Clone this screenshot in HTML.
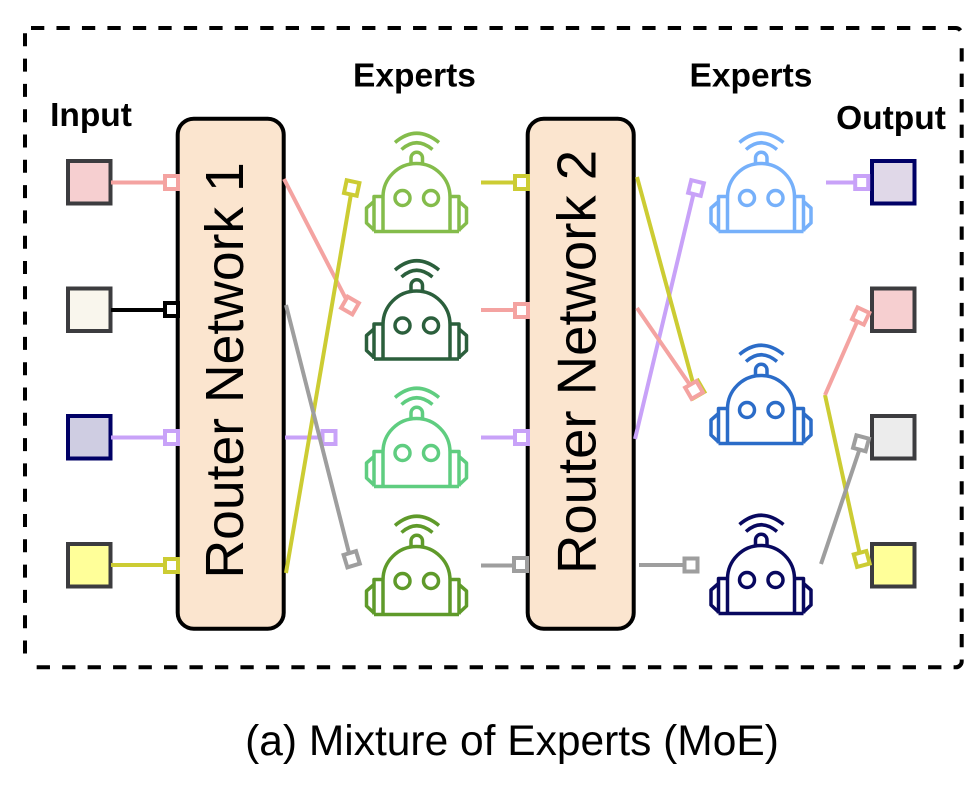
<!DOCTYPE html>
<html><head><meta charset="utf-8"><style>html,body{margin:0;padding:0;background:#fff}svg{display:block}text{font-family:"Liberation Sans",sans-serif}</style></head><body>
<svg width="978" height="790" viewBox="0 0 978 790" xmlns="http://www.w3.org/2000/svg">
<defs>
<g id="robot" fill="none" stroke-width="3.5" stroke-linejoin="round">
<path d="M383 231V197A33.500 33.500 0 0 1 450 197V231"/>
<path d="M374 231.500H459M374 231.500V196.500H383M459 231.500V196.500H450"/>
<path d="M374 201.500L366.500 208V223L374 230M459 201.500L466.500 208V223L459 230"/>
<circle cx="402.500" cy="198" r="7.500"/><circle cx="431" cy="198" r="7.500"/>
<path d="M411 164V158A5.700 5.700 0 0 1 422.500 158V164"/>
<path d="M395 142.500Q416.500 124 439 142.500"/>
<path d="M401.500 149.500Q416.500 136 432.500 149.500"/>
</g>
</defs>
<g fill="none" stroke="#000" stroke-width="4">
<path d="M31 28H956A6 6 0 0 1 961.700 34" stroke-dasharray="13.300 12.170"/>
<path d="M961.700 48.200V661A6 6 0 0 1 955.700 667.300H31" stroke-dasharray="13.300 12.170"/>
<path d="M25 33.300V661" stroke-dasharray="13 12.300"/>
</g>

<rect x="177.700" y="118.700" width="106" height="510" rx="16" fill="#fbe5cf" stroke="#000" stroke-width="4"/>
<rect x="527.700" y="118.700" width="106" height="510" rx="16" fill="#fbe5cf" stroke="#000" stroke-width="4"/>
<text transform="translate(243,578.500) rotate(-90)" font-size="53.500">Router Network 1</text>
<text transform="translate(595.300,574) rotate(-90)" font-size="54.500">Router Network 2</text>

<g font-weight="bold" font-size="33.500" text-anchor="middle" fill="#000">
<text x="91" y="126">Input</text>
<text x="414.500" y="86.700">Experts</text>
<text x="751" y="86.700">Experts</text>
<text x="891" y="129">Output</text>
</g>
<text x="512" y="755" text-anchor="middle" font-size="42.500">(a) Mixture of Experts (MoE)</text>

<g stroke="#3c3c3f" stroke-width="4">
<rect x="68" y="161" width="42.500" height="42.500" fill="#f6cfd0"/>
<rect x="68" y="288.500" width="42.500" height="42.500" fill="#f9f6ed"/>
<rect x="68" y="416" width="42.500" height="42.500" fill="#cfcde2" stroke="#000066"/>
<rect x="68" y="544" width="42.500" height="42.500" fill="#ffff99"/>
<rect x="872" y="161" width="42.500" height="42.500" fill="#e0d8e8" stroke="#000066"/>
<rect x="872" y="288.500" width="42.500" height="42.500" fill="#f6cfd0"/>
<rect x="872" y="416" width="42.500" height="42.500" fill="#ececec"/>
<rect x="872" y="544" width="42.500" height="42.500" fill="#ffff99"/>
</g>

<g fill="none" stroke-width="4">
<g stroke="#f4a3a1"><path d="M111 182.500H165M284 179L346 299M481 310H515"/>
<rect x="165" y="176" width="13" height="13" fill="#fff"/><rect x="515" y="304" width="13" height="13" fill="#fff"/>
<rect x="343.500" y="299" width="13" height="13" fill="#fff" transform="rotate(30 350 305.500)"/></g>
<g stroke="#000"><path d="M111 310H165"/><rect x="165" y="303" width="13" height="13" fill="#fff"/></g>
<g stroke="#c8a2f8"><path d="M111 437.500H165M285 437.500H323M481 437.500H515M826 182.500H856M635 439L694 192"/>
<rect x="165" y="431" width="13" height="13" fill="#fff"/><rect x="322.500" y="431" width="13" height="13" fill="#fff"/><rect x="515" y="431" width="13" height="13" fill="#fff"/><rect x="855.200" y="176" width="13" height="13" fill="#fff"/>
<rect x="689.500" y="181.500" width="13" height="13" fill="#fff" transform="rotate(14 696 188)"/></g>
<g stroke="#cccc33"><path d="M111 565H165M286 573L351 194M481 182.500H515M637 177L693 383M825 395L860 555"/>
<rect x="165" y="559" width="13" height="13" fill="#fff"/><rect x="515" y="176" width="13" height="13" fill="#fff"/>
<rect x="345.200" y="181.500" width="13" height="13" fill="#fff" transform="rotate(12 351.700 188)"/>
<rect x="689" y="383" width="13" height="13" fill="#fff" transform="rotate(-30 695.500 389.500)"/>
<rect x="855.200" y="552.500" width="13" height="13" fill="#fff" transform="rotate(-15 861.700 559)"/></g>
<g stroke="#9e9e9e"><path d="M286 305L349 553M481 565.500H514M639 565H685M821 564L860 448"/>
<rect x="514" y="558" width="13" height="13" fill="#fff"/><rect x="684.500" y="558.500" width="13" height="13" fill="#fff"/>
<rect x="345.200" y="552.800" width="13" height="13" fill="#fff" transform="rotate(-17 351.700 559.300)"/>
<rect x="854.500" y="436.800" width="13" height="13" fill="#fff" transform="rotate(15 861 443.300)"/></g>
<g stroke="#f4a3a1"><path d="M637 308L690 385M825 395L857 322"/>
<rect x="687.500" y="383.500" width="13" height="13" fill="#fff" transform="rotate(-30 694 390)"/>
<rect x="854.200" y="309.500" width="13" height="13" fill="#fff" transform="rotate(25 860.700 316)"/></g>
</g>

<use href="#robot" stroke="#84bc4b"/>
<use href="#robot" y="127.500" stroke="#2b5f3c"/>
<use href="#robot" y="255" stroke="#5fcd80"/>
<use href="#robot" y="383" stroke="#5f9a2a"/>
<use href="#robot" x="344.500" stroke="#76b0fa"/>
<use href="#robot" x="344.500" y="212" stroke="#2b6cc8"/>
<use href="#robot" x="344.500" y="382" stroke="#08085f"/>
</svg>
</body></html>
